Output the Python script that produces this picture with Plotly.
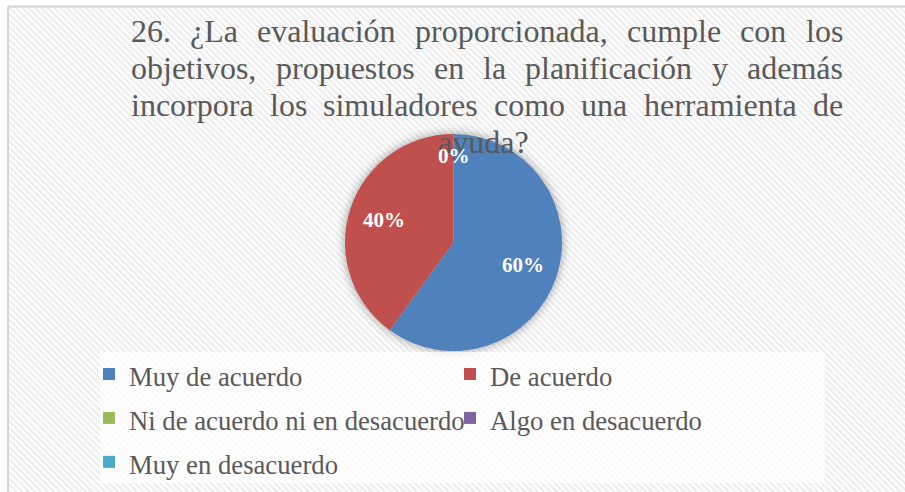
import base64
import math
import plotly.graph_objects as go

# ---------------- data ----------------
categories = ["Muy de acuerdo", "De acuerdo", "Ni de acuerdo ni en desacuerdo",
              "Algo en desacuerdo", "Muy en desacuerdo"]
values = [60, 40, 0, 0, 0]
colors = ["#4F81BD", "#C0504D", "#9BBB59", "#8064A2", "#4BACC6"]
title_lines = [
    "26. ¿La evaluación proporcionada, cumple con los",
    "objetivos, propuestos en la planificación y además",
    "incorpora los simuladores como una herramienta de",
    "ayuda?",
]

# ---------------- layout helpers ----------------
W, H = 905, 492
SERIF = "Liberation Serif, Times New Roman, serif"
TXT = "#595959"

# Times New Roman / Liberation Serif advance widths (1/1000 em)
CW = {' ': 250, '.': 250, ',': 250, '?': 444, '¿': 444, '2': 500, '6': 500,
      'L': 611, 'a': 444, 'á': 444, 'b': 500, 'c': 444, 'd': 500, 'e': 444,
      'f': 333, 'g': 500, 'h': 500, 'i': 278, 'j': 278, 'l': 278, 'm': 778,
      'n': 500, 'o': 500, 'ó': 500, 'p': 500, 'r': 333, 's': 389, 't': 278,
      'u': 500, 'v': 500, 'y': 500}


def px(x):
    return x / W


def py(y):
    return 1 - y / H


def justify(line, left, right, size):
    words = line.split()
    ws = [sum(CW.get(c, 500) for c in w) * size / 1000 for w in words]
    gap = (right - left - sum(ws)) / (len(words) - 1)
    xs, x = [], left
    for w in ws:
        xs.append(x)
        x += w + gap
    return words, xs


TITLE_SIZE = 32
title_left, title_right = 131, 843
title_centers = [31, 67.5, 104.5, 141.5]

annotations = []
for i, line in enumerate(title_lines):
    if i < len(title_lines) - 1:
        words, xs = justify(line, title_left, title_right, TITLE_SIZE)
        for w, x in zip(words, xs):
            annotations.append(dict(
                text=w, x=px(x), y=py(title_centers[i]), xref="paper", yref="paper",
                xanchor="left", yanchor="middle", showarrow=False,
                borderpad=0, borderwidth=0,
                font=dict(family=SERIF, size=TITLE_SIZE, color=TXT)))
    else:
        annotations.append(dict(
            text=line, x=px(483), y=py(title_centers[i]), xref="paper", yref="paper",
            xanchor="center", yanchor="middle", showarrow=False,
            borderpad=0, borderwidth=0,
            font=dict(family=SERIF, size=TITLE_SIZE, color=TXT)))

# pie geometry
cx, cy, R = 453.5, 242.5, 108.5

# data labels, placed at the middle angle of each slice (zero slices share one label)
total = sum(values)
cum = 0.0
zero_done = False
for v in values:
    frac = v / total
    mid = (cum + frac / 2) * 2 * math.pi  # clockwise from 12 o'clock
    cum += frac
    if v == 0:
        if zero_done:
            continue
        zero_done = True
        rf = 0.8
    else:
        rf = 0.67
    lx = cx + rf * R * math.sin(mid)
    ly = cy - rf * R * math.cos(mid)
    annotations.append(dict(
        text=f"<b>{round(frac * 100)}%</b>", x=px(lx), y=py(ly),
        xref="paper", yref="paper", xanchor="center", yanchor="middle",
        showarrow=False, font=dict(family=SERIF, size=21, color="white")))

# ---------------- background pattern ----------------
svg = (
    f"<svg xmlns='http://www.w3.org/2000/svg' width='{W}' height='{H}'>"
    "<defs><pattern id='p' width='4.5' height='4.5' patternUnits='userSpaceOnUse' "
    "patternTransform='rotate(-45)'>"
    "<rect width='4.5' height='4.5' fill='#ffffff'/>"
    "<rect width='2.2' height='4.5' fill='#ededed'/></pattern></defs>"
    f"<rect width='{W}' height='{H}' fill='#ffffff'/>"
    f"<rect x='8' y='6' width='{W}' height='{H}' fill='url(#p)'/>"
    "</svg>"
)
bg_src = "data:image/svg+xml;base64," + base64.b64encode(svg.encode()).decode()

shapes = []
# soft shadow around the pie
for k, a in [(9, 0.025), (6, 0.035), (4, 0.045), (2, 0.06)]:
    shapes.append(dict(type="circle", xref="paper", yref="paper", layer="below",
                       x0=px(cx - R - k), x1=px(cx + R + k),
                       y0=py(cy + R + k), y1=py(cy - R - k),
                       fillcolor=f"rgba(0,0,0,{a})", line=dict(width=0)))
# lighter legend area
shapes.append(dict(type="rect", xref="paper", yref="paper", layer="below",
                   x0=px(100), x1=px(825), y0=py(483), y1=py(352),
                   fillcolor="rgba(255,255,255,0.72)", line=dict(width=0)))
# frame lines
shapes.append(dict(type="line", xref="paper", yref="paper", layer="below",
                   x0=px(8), x1=1, y0=py(6.5), y1=py(6.5),
                   line=dict(color="#d4d4d4", width=2)))
shapes.append(dict(type="line", xref="paper", yref="paper", layer="below",
                   x0=px(8), x1=px(8), y0=0, y1=py(6.5),
                   line=dict(color="#d4d4d4", width=2)))

legend_labels = [f'<span style="font-size:26.7px">{c}</span>' for c in categories]

fig = go.Figure(go.Pie(
    labels=legend_labels,
    values=values,
    sort=False,
    direction="clockwise",
    rotation=0,
    marker=dict(colors=colors, line=dict(width=0)),
    textinfo="none",
    hoverinfo="skip",
    domain=dict(x=[px(cx - R), px(cx + R)], y=[py(cy + R), py(cy - R)]),
))

fig.update_layout(
    width=W, height=H,
    margin=dict(l=0, r=0, t=0, b=0),
    paper_bgcolor="white",
    plot_bgcolor="white",
    images=[dict(source=bg_src, xref="paper", yref="paper", x=0, y=1,
                 sizex=1, sizey=1, sizing="stretch", xanchor="left",
                 yanchor="top", layer="below")],
    shapes=shapes,
    annotations=annotations,
    showlegend=True,
    legend=dict(
        orientation="h", traceorder="normal",
        x=px(89), y=py(347), xanchor="left", yanchor="top",
        entrywidth=316, entrywidthmode="pixels",
        font=dict(family=SERIF, size=31.5, color=TXT),
        bgcolor="rgba(0,0,0,0)", borderwidth=0,
    ),
)

fig.write_html("out.html", config={"displayModeBar": False},
               post_script="document.body.style.margin='0';document.body.style.overflow='hidden';")
